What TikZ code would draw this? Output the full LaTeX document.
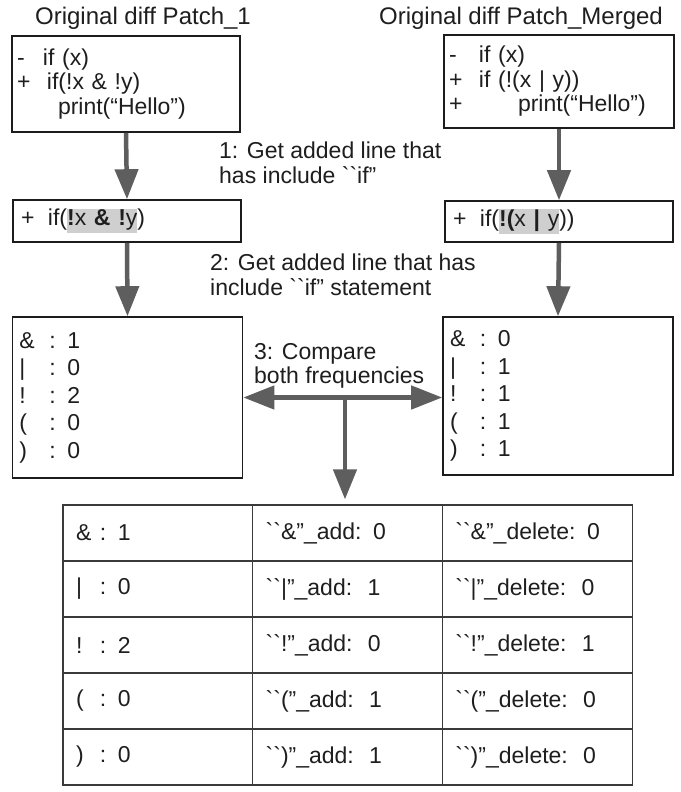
\documentclass[tikz,border=0pt]{standalone}
\usepackage{fontspec}
\setmainfont{Liberation Sans}
\usetikzlibrary{arrows.meta}
\definecolor{boxc}{HTML}{1C1C1C}
\definecolor{txt}{HTML}{1E1E1E}
\definecolor{arrc}{HTML}{5E5E5E}
\definecolor{tabc}{HTML}{3A3A3A}
\definecolor{hlgray}{HTML}{CFCFCF}
\newcommand\gv{\XeTeXglyph\XeTeXcharglyph"0060\relax}
\newcommand\hlt[1]{{\setlength{\fboxsep}{0pt}\colorbox{hlgray}{\strut#1}}}
\tikzset{
  fnt/.style={font=\fontsize{23}{24.5}\selectfont, text=txt},
  box/.style={fnt, draw=boxc, line width=1.6pt, inner ysep=0pt, align=left},
  freqbox/.style={box, font=\fontsize{23}{27.5}\selectfont, inner xsep=7pt, text width=216pt},
  lbl/.style={fnt, align=left, inner sep=0pt, anchor=west},
  ttl/.style={font=\fontsize{24}{26}\selectfont, text=txt, inner sep=0pt},
  cell/.style={fnt, draw=tabc, line width=1.2pt, minimum height=56pt, inner xsep=13pt, inner ysep=0pt, text width=163.7pt, align=left},
  arr/.style={draw=arrc, line width=4.5pt, -{Triangle[width=23pt,length=30pt]}},
  darr/.style={draw=arrc, line width=4.5pt, {Triangle[width=23pt,length=31pt]}-{Triangle[width=23pt,length=31pt]}}
}
\begin{document}
\begin{tikzpicture}[x=1pt,y=-1pt]
\useasboundingbox[fill=white] (0,0) rectangle (680,792);

% titles
\node[ttl] (t1) at (143,18) {Original diff Patch\_1};
\node[ttl] (t2) at (521,18) {Original diff Patch\_Merged};

% top boxes
\node[box, inner xsep=5pt, text width=218pt, minimum height=96pt] (b1) at (126,84)
  {\makebox[26pt][l]{-}if (x)\\
   \makebox[30pt][l]{+}if(!x \& !y)\\
   \hspace*{41pt}print(“Hello”)};
\node[box, inner xsep=5pt, text width=220pt, minimum height=93pt] (b2) at (559,81.5)
  {\makebox[30pt][l]{-}if (x)\\
   \makebox[30pt][l]{+}if (!(x | y))\\
   \makebox[69pt][l]{+}print(“Hello”)};

% second boxes
\node[box, inner xsep=8pt, text width=212pt, minimum height=42pt] (b3) at (127,221)
  {\makebox[27pt][l]{+}if(\hlt{\textbf{!}x \textbf{\&} \textbf{!}y})};
\node[box, inner xsep=8pt, text width=212pt, minimum height=41pt] (b4) at (559,221.5)
  {\makebox[27pt][l]{+}if(\hlt{\textbf{!(}x \textbf{|} y}))};

% frequency boxes
\node[freqbox, minimum height=161pt] (b5) at (127.5,397.5)
  {\makebox[30pt][l]{\&}: 1\\
   \makebox[30pt][l]{|}: 0\\
   \makebox[30pt][l]{!}: 2\\
   \makebox[30pt][l]{(}: 0\\
   \makebox[30pt][l]{)}: 0};
\node[freqbox, text width=216pt, minimum height=158pt] (b6) at (558,396)
  {\makebox[30pt][l]{\&}: 0\\
   \makebox[30pt][l]{|}: 1\\
   \makebox[30pt][l]{!}: 1\\
   \makebox[30pt][l]{(}: 1\\
   \makebox[30pt][l]{)}: 1};

% step labels
\node[lbl] (l1) at (219,163) {1: Get added line that\\has include \gv\gv if”};
\node[lbl] (l2) at (210,275) {2: Get added line that has\\include \gv\gv if” statement};
\node[lbl] (l3) at (254,366) {3: Compare\\both frequencies};

% table
\node[cell] (c11) at (157.85,533) {\makebox[24pt][l]{\&}: 1};
\node[cell] (c12) at (347.55,533) {\gv\gv\&”\_add: 0};
\node[cell] (c13) at (537.25,533) {\gv\gv\&”\_delete: 0};
\node[cell] (c21) at (157.85,589) {\makebox[24pt][l]{|}: 0};
\node[cell] (c22) at (347.55,589) {\gv\gv|”\_add:\ \ 1};
\node[cell] (c23) at (537.25,589) {\gv\gv|”\_delete:\ \ 0};
\node[cell] (c31) at (157.85,645) {\makebox[24pt][l]{!}: 2};
\node[cell] (c32) at (347.55,645) {\gv\gv!”\_add:\ \ 0};
\node[cell] (c33) at (537.25,645) {\gv\gv!”\_delete:\ \ 1};
\node[cell] (c41) at (157.85,701) {\makebox[24pt][l]{(}: 0};
\node[cell] (c42) at (347.55,701) {\gv\gv(”\_add:\ \ 1};
\node[cell] (c43) at (537.25,701) {\gv\gv(”\_delete:\ \ 0};
\node[cell] (c51) at (157.85,757) {\makebox[24pt][l]{)}: 0};
\node[cell] (c52) at (347.55,757) {\gv\gv)”\_add:\ \ 1};
\node[cell] (c53) at (537.25,757) {\gv\gv)”\_delete:\ \ 0};

% connectors
\draw[arr] (b1.south) -- (b3.north);
\draw[arr] (b2.south) -- (b4.north);
\draw[arr] (b3.south) -- (b5.north);
\draw[arr] (b4.south) -- (b6.north);
\draw[darr] (b5.east) -- (b5.east -| b6.west);
\coordinate (mid) at (345,397);
\draw[arr, shorten >=5pt] (mid) -- (mid |- c12.north);
\end{tikzpicture}
\end{document}
